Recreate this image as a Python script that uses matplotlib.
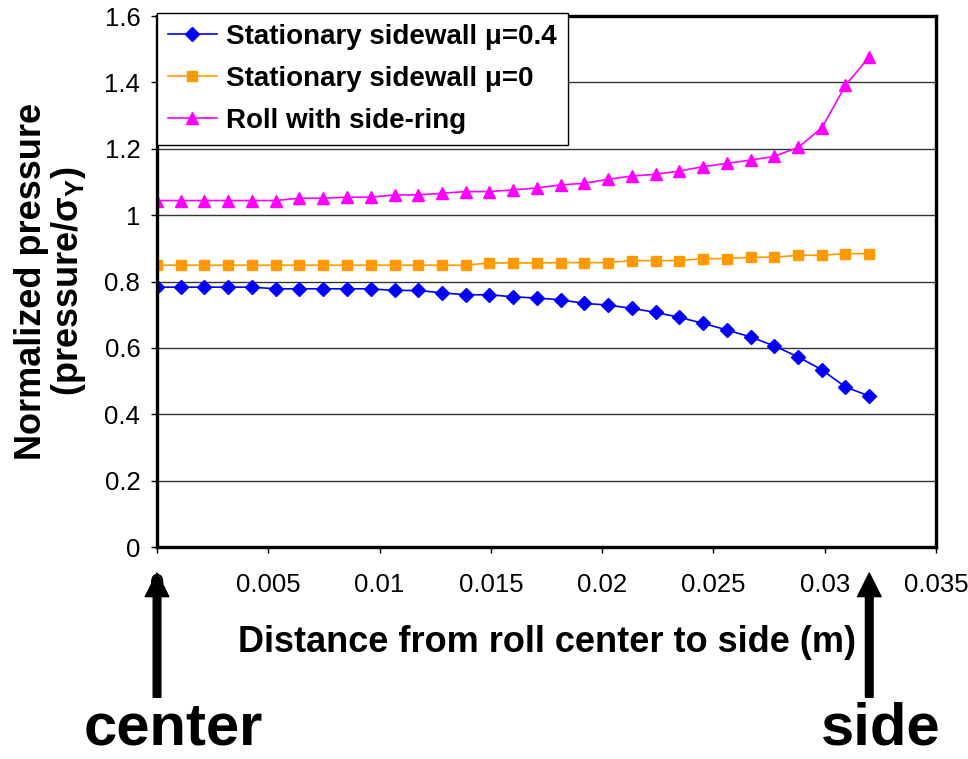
import numpy as np
import matplotlib
matplotlib.use('Agg')
import matplotlib.pyplot as plt

plt.rcParams['font.family'] = ['Liberation Sans', 'DejaVu Sans']
plt.rcParams['mathtext.fontset'] = 'custom'
plt.rcParams['mathtext.rm'] = 'Liberation Sans'

# distance from roll center (m)
x = [0.0, 0.00107, 0.00213, 0.0032, 0.00427, 0.00533, 0.0064, 0.00747,
     0.00853, 0.0096, 0.01067, 0.01173, 0.0128, 0.01387, 0.01493, 0.016,
     0.01707, 0.01813, 0.0192, 0.02027, 0.02133, 0.0224, 0.02347, 0.02453,
     0.0256, 0.02667, 0.02773, 0.0288, 0.02987, 0.03093, 0.032]

# Stationary sidewall mu=0.4
p_mu04 = [0.783, 0.783, 0.783, 0.783, 0.783, 0.778, 0.778, 0.778, 0.778, 0.778,
          0.773, 0.773, 0.766, 0.760, 0.760, 0.754, 0.750, 0.745, 0.734, 0.729,
          0.719, 0.707, 0.692, 0.674, 0.654, 0.633, 0.606, 0.573, 0.534, 0.482,
          0.455]

# Stationary sidewall mu=0
p_mu0 = [0.849, 0.849, 0.849, 0.849, 0.849, 0.849, 0.849, 0.849, 0.849, 0.849,
         0.849, 0.849, 0.849, 0.849, 0.856, 0.856, 0.856, 0.857, 0.857, 0.857,
         0.863, 0.863, 0.863, 0.869, 0.869, 0.873, 0.873, 0.879, 0.879, 0.884,
         0.884]

# Roll with side-ring
p_ring = [1.044, 1.044, 1.044, 1.044, 1.044, 1.044, 1.051, 1.051, 1.054, 1.054,
          1.061, 1.061, 1.066, 1.071, 1.071, 1.076, 1.082, 1.091, 1.096, 1.108,
          1.118, 1.123, 1.133, 1.146, 1.156, 1.166, 1.177, 1.204, 1.263, 1.391,
          1.477]

labels = ['Stationary sidewall \u03bc=0.4', 'Stationary sidewall \u03bc=0',
          'Roll with side-ring']

fig = plt.figure(figsize=(9.68, 7.59), dpi=100)
ax = fig.add_axes([0.1622, 0.2793, 0.8048, 0.6996])

ax.plot(x, p_mu04, color='#0000FF', marker='D', ms=7, lw=1.2, label=labels[0])
ax.plot(x, p_mu0, color='#FF9900', marker='s', ms=7, lw=1.2, label=labels[1])
ax.plot(x, p_ring, color='#FF00FF', marker='^', ms=8.5, lw=1.2, label=labels[2])

ax.set_xlim(0, 0.035)
ax.set_ylim(0, 1.6)
ax.set_xticks([0, 0.005, 0.01, 0.015, 0.02, 0.025, 0.03, 0.035])
ax.set_xticklabels(['0', '0.005', '0.01', '0.015', '0.02', '0.025', '0.03', '0.035'])
ax.set_yticks([0, 0.2, 0.4, 0.6, 0.8, 1.0, 1.2, 1.4, 1.6])
ax.set_yticklabels(['0', '0.2', '0.4', '0.6', '0.8', '1', '1.2', '1.4', '1.6'])
ax.tick_params(axis='x', labelsize=18.5, length=4, width=1, pad=15)
ax.tick_params(axis='y', labelsize=18.5, length=4, width=1, pad=8)

ax.yaxis.grid(True, color='#333333', lw=1.0)
ax.set_axisbelow(True)
for s in ax.spines.values():
    s.set_linewidth(2.4)

ax.set_xlabel('Distance from roll center to side (m)', fontsize=26,
              fontweight='bold', labelpad=20)
ax.set_ylabel('Normalized pressure\n(pressure/\u03c3$_\\mathregular{Y}$)',
              fontsize=26, fontweight='bold', labelpad=12, linespacing=1.0)

leg = ax.legend(loc='upper left', bbox_to_anchor=(0.0, 1.006), borderaxespad=0,
                prop={'size': 20, 'weight': 'bold'}, fancybox=False,
                handlelength=1.75, handletextpad=0.35, labelspacing=0.58,
                borderpad=0.4, framealpha=1)
leg.get_frame().set_edgecolor('black')
leg.get_frame().set_linewidth(1.0)

# arrows marking center and side
tr = ax.get_xaxis_transform()
for xa in [0, 0.032]:
    ax.annotate('', xy=(xa, -0.049), xycoords=tr, xytext=(xa, -0.283),
                textcoords=tr, annotation_clip=False,
                arrowprops=dict(facecolor='black', edgecolor='black',
                                width=5.5, headwidth=17, headlength=17))

fig.text(0.179, 0.003, 'center', fontsize=43, fontweight='bold',
         ha='center', va='bottom')
fig.text(0.910, 0.003, 'side', fontsize=43, fontweight='bold',
         ha='center', va='bottom')

fig.savefig('out.png', dpi=100)
